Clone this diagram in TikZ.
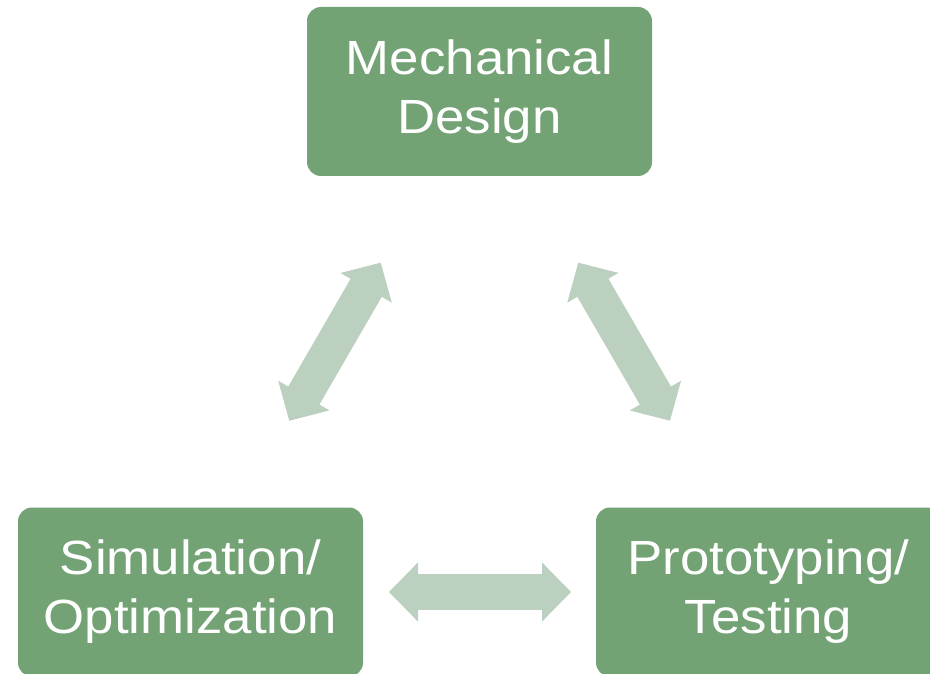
\documentclass[tikz,border=0pt]{standalone}
\usepackage{fontspec}
\setmainfont{Liberation Sans}[FakeStretch=1.10]
\usetikzlibrary{arrows.meta}
\definecolor{boxgreen}{RGB}{115,163,117}
\definecolor{arrowgreen}{RGB}{188,208,192}
\newcommand{\stagetext}[1]{\raisebox{-2pt}{\parbox{340pt}{\centering #1}}}
\begin{document}
\begin{tikzpicture}[x=1pt,y=-1pt,
  stagebox/.style={fill=boxgreen, rounded corners=14pt, minimum width=345pt, minimum height=169pt,
    text=white, inner sep=0pt, font=\fontsize{48}{59}\selectfont},
  blockarrow/.style={draw=arrowgreen, line width=36pt,
    {Triangle[length=29pt,width=59pt,line width=1pt]}-{Triangle[length=29pt,width=59pt,line width=1pt]}}
]
\clip (0,0) rectangle (930,674);
\fill[white] (0,0) rectangle (930,674);
\node[stagebox] (mech) at (479.5,91.5) {\stagetext{Mechanical\\Design}};
\node[stagebox] (sim) at (190.5,592) {\stagetext{Simulation/\\Optimization}};
\node[stagebox] (proto) at (768.5,592) {\stagetext{Prototyping/\\Testing}};
\coordinate (ls) at (289.3,420.7);
\coordinate (le) at (380.7,262.7);
\coordinate (rs) at (578.3,262.7);
\coordinate (re) at (670,420.7);
\coordinate (hs) at (389,592);
\coordinate (he) at (571,592);
\draw[blockarrow] (ls) -- (le);
\draw[blockarrow] (rs) -- (re);
\draw[blockarrow] (hs) -- (he);
\end{tikzpicture}
\end{document}
